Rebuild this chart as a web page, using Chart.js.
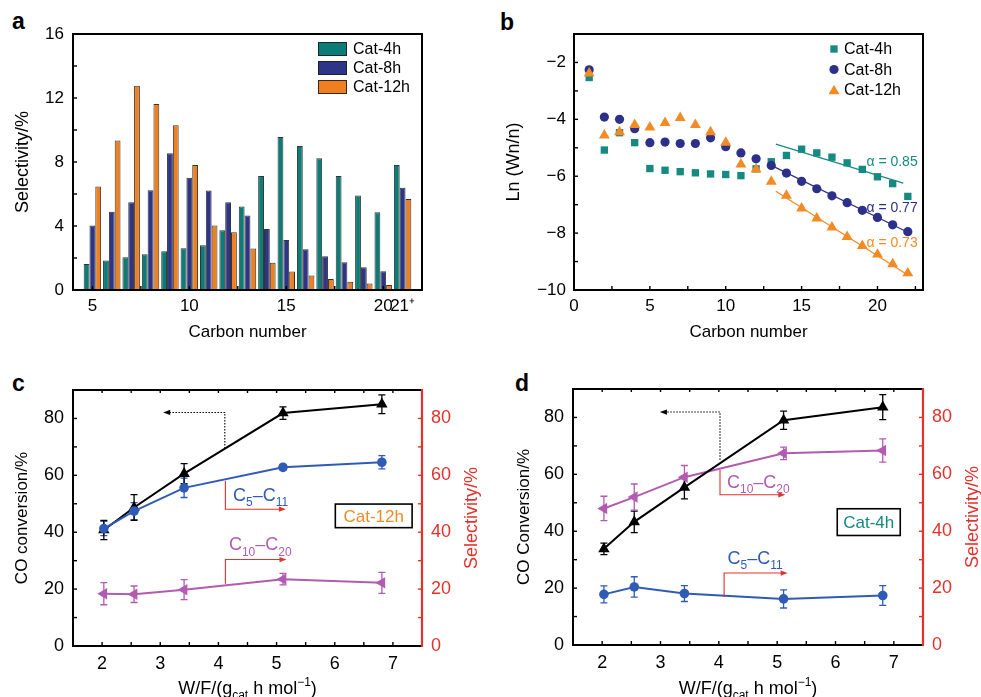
<!DOCTYPE html>
<html><head><meta charset="utf-8">
<script src="https://cdn.jsdelivr.net/npm/chart.js@4.4.1/dist/chart.umd.min.js"></script>
<style>
body{margin:0;background:#fff;width:981px;height:697px;overflow:hidden;position:relative;font-family:"Liberation Sans",Arial,sans-serif}
canvas{position:absolute}
.lab{position:absolute;font-weight:bold;font-size:23px;line-height:1;font-family:"Liberation Sans",Arial,sans-serif;color:#000}
</style></head><body>
<div class="lab" style="left:12px;top:10px">a</div>
<div class="lab" style="left:500px;top:11px">b</div>
<div class="lab" style="left:12px;top:372px">c</div>
<div class="lab" style="left:515px;top:372px">d</div>
<canvas id="ca" width="490" height="350" style="left:0;top:0"></canvas>
<canvas id="cb" width="491" height="350" style="left:490px;top:0"></canvas>
<canvas id="cc" width="490" height="337" style="left:0;top:360px"></canvas>
<canvas id="cd" width="491" height="337" style="left:490px;top:360px"></canvas>
<script>
// ---------------- DATA ----------------
// Panel a: selectivity (%) by carbon number
const carbonA = [5,6,7,8,9,10,11,12,13,14,15,16,17,18,19,20,21];
const aCat4h  = [1.63,1.84,2.05,2.23,2.42,2.61,2.80,3.74,5.22,7.12,9.56,9.00,8.23,7.12,5.91,4.86,7.81];
const aCat8h  = [4.03,4.89,5.49,6.24,8.54,7.01,6.22,5.49,4.66,3.82,3.13,2.55,2.11,1.73,1.42,1.17,6.39];
const aCat12h = [6.47,9.35,12.76,11.63,10.29,7.81,4.03,3.61,2.59,1.71,1.15,0.90,0.69,0.52,0.40,0.31,5.68];
const aXTicks = [5,10,15,20,21];
const aXTickLabels = ['5','10','15','20','21\u207A'];
const aYTicks = [0,4,8,12,16];

// Panel b: ASF plot ln(Wn/n)
const carbonB = [1,2,3,4,5,6,7,8,9,10,11,12,13,14,15,16,17,18,19,20,21,22];
const bCat4h  = [-2.53,-5.08,-4.47,-4.82,-5.73,-5.79,-5.84,-5.88,-5.92,-5.94,-5.98,-5.74,-5.49,-5.27,-5.05,-5.18,-5.33,-5.53,-5.76,-6.02,-6.26,-6.71];
const bCat8h  = [-2.26,-3.92,-4.00,-4.33,-4.82,-4.80,-4.85,-4.85,-4.65,-4.96,-5.18,-5.39,-5.62,-5.89,-6.18,-6.44,-6.69,-6.93,-7.20,-7.45,-7.71,-7.95];
const bCat12h = [-2.38,-4.56,-4.45,-4.19,-4.28,-4.12,-3.95,-4.19,-4.45,-4.82,-5.58,-5.76,-6.19,-6.68,-7.13,-7.48,-7.80,-8.13,-8.45,-8.75,-9.09,-9.41];
const bFit4hX  = [13.3, 21.7], bFit4hY  = [-4.87, -6.24];
const bFit8hX  = [13.0, 22.0], bFit8hY  = [-5.62, -7.97];
const bFit12hX = [13.3, 22.0], bFit12hY = [-6.53, -9.47];
const bAlpha = ['\u03B1 = 0.85', '\u03B1 = 0.77', '\u03B1 = 0.73'];
const bXTicks = [0,5,10,15,20];
const bYTicks = [-10,-8,-6,-4,-2];

// Panels c, d: W/F
const wfX = [2.03, 2.55, 3.41, 5.11, 6.81];
const cConv = [40.8, 48.7, 60.6, 81.9, 85.0], cConvErr = [3.4, 4.5, 3.5, 2.2, 3.3];
const cC5   = [41.3, 47.4, 55.6, 62.8, 64.6], cC5Err   = [2.5, 3.0, 3.4, 1.0, 2.3];
const cC10  = [18.4, 18.2, 19.8, 23.5, 22.2], cC10Err  = [3.9, 2.9, 3.5, 2.0, 3.7];
const dConv = [33.8, 43.3, 55.4, 79.0, 83.6], dConvErr = [2.0, 3.8, 4.0, 3.2, 4.4];
const dC5   = [17.8, 20.4, 18.1, 16.2, 17.4], dC5Err   = [3.0, 3.6, 2.8, 3.2, 3.5];
const dC10  = [48.0, 52.0, 59.0, 67.4, 68.4], dC10Err  = [4.3, 4.6, 4.1, 2.2, 4.1];
const cdXTicks = [2,3,4,5,6,7];
const cdYTicks = [0,20,40,60,80];

// ---------------- STYLE ----------------
const FONT = '"Liberation Sans", Arial, Helvetica, sans-serif';
Chart.defaults.font.family = FONT;
Chart.defaults.color = '#000';
const TEAL = '#0b7d76', NAVY = '#2e3488', ORANGE = '#f0801f';
const TEALB = '#168a80', NAVYB = '#2d3089', ORANGEB = '#f28b25';
const BLUE = '#2f5bb7', MAG = '#b35bb0', RED = '#e3312b';
const BAROUT = 'rgba(30,30,30,0.9)';

const xy = (xs, ys) => xs.map((x, i) => ({x: x, y: ys[i]}));
const range = (a, b, s) => { const r = []; for (let v = a; v <= b + 1e-9; v += s) r.push(+v.toFixed(4)); return r; };
const minusFmt = v => (v < 0 ? '\u2212' : '') + Math.abs(v);

function rich(ctx, x, y, parts, size, color, align) {
  const fonts = parts.map(p => (p[1] ? Math.round(size * 0.68) : size) + 'px ' + FONT);
  let w = 0;
  const ws = parts.map((p, i) => { ctx.font = fonts[i]; const m = ctx.measureText(p[0]).width; w += m; return m; });
  let cx = align === 'center' ? x - w / 2 : align === 'right' ? x - w : x;
  ctx.fillStyle = color; ctx.textBaseline = 'alphabetic'; ctx.textAlign = 'left';
  parts.forEach((p, i) => {
    ctx.font = fonts[i];
    const dy = p[1] === 1 ? size * 0.3 : p[1] === 2 ? -size * 0.42 : 0;
    ctx.fillText(p[0], cx, y + dy); cx += ws[i];
  });
}
function drawMarker(ctx, style, x, y, r, color, rot) {
  ctx.save(); ctx.fillStyle = color; ctx.beginPath();
  if (style === 'circle') ctx.arc(x, y, r, 0, Math.PI * 2);
  else if (style === 'rect') { const s = r * Math.SQRT1_2; ctx.rect(x - s, y - s, 2 * s, 2 * s); }
  else { let a = (rot || 0) * Math.PI / 180;
    for (let k = 0; k < 3; k++) { const px = x + Math.sin(a) * r, py = y - Math.cos(a) * r; k ? ctx.lineTo(px, py) : ctx.moveTo(px, py); a += 2 * Math.PI / 3; }
    ctx.closePath(); }
  ctx.fill(); ctx.restore();
}
function polyArrow(chart, pts, color, dashed) {
  const ctx = chart.ctx, xs = chart.scales.x, ys = chart.scales.y;
  const P = pts.map(p => [xs.getPixelForValue(p[0]), ys.getPixelForValue(p[1])]);
  ctx.save(); ctx.strokeStyle = color; ctx.fillStyle = color; ctx.lineWidth = 1.1;
  if (dashed) ctx.setLineDash([1.5, 1.5]);
  const n = P.length, [ex, ey] = P[n - 1], [px, py] = P[n - 2];
  const ang = Math.atan2(ey - py, ex - px), L = 7, H = 2.6;
  ctx.beginPath(); ctx.moveTo(P[0][0], P[0][1]);
  for (let i = 1; i < n - 1; i++) ctx.lineTo(P[i][0], P[i][1]);
  ctx.lineTo(ex - Math.cos(ang) * L * 0.8, ey - Math.sin(ang) * L * 0.8); ctx.stroke();
  ctx.setLineDash([]);
  ctx.beginPath(); ctx.moveTo(ex, ey);
  ctx.lineTo(ex - Math.cos(ang) * L - Math.sin(ang) * H, ey - Math.sin(ang) * L + Math.cos(ang) * H);
  ctx.lineTo(ex - Math.cos(ang) * L + Math.sin(ang) * H, ey - Math.sin(ang) * L - Math.cos(ang) * H);
  ctx.closePath(); ctx.fill(); ctx.restore();
}
function dataText(chart, x, y, parts, size, color, align) {
  rich(chart.ctx, chart.scales.x.getPixelForValue(x), chart.scales.y.getPixelForValue(y), parts, size, color, align);
}
function dataBox(chart, x0, x1, y0, y1, text, color) {
  const ctx = chart.ctx, xs = chart.scales.x, ys = chart.scales.y;
  const L = xs.getPixelForValue(x0), R = xs.getPixelForValue(x1), T = ys.getPixelForValue(y0), B = ys.getPixelForValue(y1);
  ctx.save(); ctx.fillStyle = '#fff'; ctx.fillRect(L, T, R - L, B - T);
  ctx.strokeStyle = '#000'; ctx.lineWidth = 1.6; ctx.strokeRect(L, T, R - L, B - T);
  ctx.fillStyle = color; ctx.font = '17px ' + FONT; ctx.textAlign = 'center'; ctx.textBaseline = 'middle';
  ctx.fillText(text, (L + R) / 2, (T + B) / 2 + 1); ctx.restore();
}
function rotText(ctx, x, y, text, size, color) {
  ctx.save(); ctx.translate(x, y); ctx.rotate(-Math.PI / 2);
  ctx.font = size + 'px ' + FONT; ctx.fillStyle = color; ctx.textAlign = 'center'; ctx.textBaseline = 'middle';
  ctx.fillText(text, 0, 0); ctx.restore();
}

const extras = {};
const deco = {
  id: 'deco',
  beforeDatasetsDraw(chart) {
    const ctx = chart.ctx;
    chart.data.datasets.forEach((ds, di) => {
      if (!ds.errs) return;
      const meta = chart.getDatasetMeta(di);
      const xs = chart.scales[meta.xAxisID], ys = chart.scales[meta.yAxisID];
      ctx.save(); ctx.strokeStyle = ds.borderColor; ctx.lineWidth = 1.3;
      ds.data.forEach((p, i) => {
        const x = xs.getPixelForValue(p.x), y1 = ys.getPixelForValue(p.y + ds.errs[i]), y2 = ys.getPixelForValue(p.y - ds.errs[i]);
        ctx.beginPath(); ctx.moveTo(x, y1); ctx.lineTo(x, y2);
        ctx.moveTo(x - 3.5, y1); ctx.lineTo(x + 3.5, y1); ctx.moveTo(x - 3.5, y2); ctx.lineTo(x + 3.5, y2); ctx.stroke();
      });
      ctx.restore();
    });
  },
  afterDraw(chart) {
    const ex = extras[chart.canvas.id]; if (!ex) return;
    const ctx = chart.ctx, a = chart.chartArea;
    ctx.save();
    (ex.ticks || []).forEach(t => {
      const s = chart.scales[t.scale];
      ctx.strokeStyle = t.color || '#000'; ctx.lineWidth = 1.4;
      t.values.forEach(v => {
        const p = s.getPixelForValue(v);
        ctx.beginPath();
        if (t.side === 'left') { ctx.moveTo(a.left, p); ctx.lineTo(a.left + t.len, p); }
        else if (t.side === 'right') { ctx.moveTo(a.right, p); ctx.lineTo(a.right - t.len, p); }
        else if (t.side === 'top') { ctx.moveTo(p, a.top); ctx.lineTo(p, a.top + t.len); }
        else { ctx.moveTo(p, a.bottom); ctx.lineTo(p, a.bottom - t.len); }
        ctx.stroke();
      });
    });
    ctx.lineWidth = 2; ctx.strokeStyle = '#000'; ctx.lineCap = 'square';
    ctx.beginPath(); ctx.moveTo(a.right, a.top); ctx.lineTo(a.left, a.top); ctx.lineTo(a.left, a.bottom); ctx.lineTo(a.right, a.bottom);
    if (!ex.redRight) ctx.lineTo(a.right, a.top);
    ctx.stroke();
    if (ex.redRight) { ctx.strokeStyle = RED; ctx.lineWidth = 2.2; ctx.lineCap = 'butt'; ctx.beginPath(); ctx.moveTo(a.right, a.top - 1); ctx.lineTo(a.right, a.bottom + 1); ctx.stroke(); }
    if (ex.draw) ex.draw(chart, ctx, a);
    ctx.restore();
  }
};
Chart.register(deco);

const base = {responsive: false, animation: false, devicePixelRatio: 1,
  plugins: {legend: {display: false}, tooltip: {enabled: false}}};
const fixTicks = arr => s => { s.ticks = arr.map(v => ({value: v})); };
const noGrid = {display: false, drawTicks: false};

// ---------------- PANEL A ----------------
extras.ca = {
  ticks: [
    {scale: 'y', side: 'left', len: 4, values: range(0, 16, 2)},
    {scale: 'x', side: 'bottom', len: 4, values: range(5, 20, 2.5)}
  ],
  draw(chart, ctx) {
    chart.data.datasets.forEach((ds, i) => {
      const y = 49 + i * 19;
      ctx.fillStyle = ds.backgroundColor; ctx.fillRect(318, y - 7, 29, 14);
      ctx.strokeStyle = BAROUT; ctx.lineWidth = 1; ctx.strokeRect(318.5, y - 6.5, 28, 13);
      ctx.fillStyle = '#000'; ctx.font = '16px ' + FONT; ctx.textBaseline = 'middle'; ctx.textAlign = 'left';
      ctx.fillText(ds.label, 353, y + 1);
    });
  }
};
new Chart(document.getElementById('ca'), {
  type: 'bar',
  data: {datasets: [
    {label: 'Cat-4h', data: xy(carbonA, aCat4h), backgroundColor: TEAL, borderColor: BAROUT, borderWidth: 1},
    {label: 'Cat-8h', data: xy(carbonA, aCat8h), backgroundColor: NAVY, borderColor: BAROUT, borderWidth: 1},
    {label: 'Cat-12h', data: xy(carbonA, aCat12h), backgroundColor: ORANGE, borderColor: BAROUT, borderWidth: 1}
  ]},
  options: Object.assign({}, base, {
    layout: {padding: {left: 0, top: 34, right: 68, bottom: 0}},
    datasets: {bar: {categoryPercentage: 0.9, barPercentage: 1.0}},
    scales: {
      x: {type: 'linear', offset: false, min: 4, max: 22, grid: noGrid, border: {display: false},
        afterBuildTicks: fixTicks(aXTicks), afterFit: s => { s.height = 60; },
        ticks: {autoSkip: false, maxRotation: 0, padding: 6, font: {size: 17}, callback: v => aXTickLabels[aXTicks.indexOf(v)]},
        title: {display: true, text: 'Carbon number', font: {size: 17}, padding: {top: 0, bottom: 7}}},
      y: {min: 0, max: 16, grid: noGrid, border: {display: false},
        afterBuildTicks: fixTicks(aYTicks), afterFit: s => { s.width = 73; },
        ticks: {padding: 9, font: {size: 17}},
        title: {display: true, text: 'Selectivity/%', font: {size: 18}, padding: {top: 12, bottom: 0}}}
    }
  })
});

// ---------------- PANEL B ----------------
extras.cb = {
  ticks: [
    {scale: 'y', side: 'left', len: 4, values: range(-10, -2, 1)},
    {scale: 'x', side: 'bottom', len: 4, values: range(0, 22.5, 2.5)}
  ],
  draw(chart, ctx) {
    const rows = [49, 69.5, 90];
    for (let i = 0; i < 3; i++) {
      const ds = chart.data.datasets[i];
      drawMarker(ctx, ds.pointStyle, 344, rows[i] + (ds.pointStyle === 'triangle' ? 1 : 0), ds.pointRadius, ds.backgroundColor);
      ctx.fillStyle = '#000'; ctx.font = '16px ' + FONT; ctx.textAlign = 'left'; ctx.textBaseline = 'middle';
      ctx.fillText(ds.label, 354, rows[i] + 1);
    }
    const ay = [-5.49, -7.12, -8.34], ac = [TEALB, NAVYB, ORANGEB];
    const xs = chart.scales.x, ys = chart.scales.y;
    bAlpha.forEach((t, i) => {
      ctx.font = '14px ' + FONT; ctx.fillStyle = ac[i]; ctx.textAlign = 'right'; ctx.textBaseline = 'middle';
      ctx.fillText(t, xs.getPixelForValue(22.65), ys.getPixelForValue(ay[i]));
    });
  }
};
new Chart(document.getElementById('cb'), {
  type: 'scatter',
  data: {datasets: [
    {label: 'Cat-4h', data: xy(carbonB, bCat4h), pointStyle: 'rect', pointRadius: 5.2, backgroundColor: TEALB, borderColor: TEALB, pointBorderWidth: 0, order: 2},
    {label: 'Cat-8h', data: xy(carbonB, bCat8h), pointStyle: 'circle', pointRadius: 4.6, backgroundColor: NAVYB, borderColor: NAVYB, pointBorderWidth: 0, order: 1},
    {label: 'Cat-12h', data: xy(carbonB, bCat12h), pointStyle: 'triangle', pointRadius: 6.3, backgroundColor: ORANGEB, borderColor: ORANGEB, pointBorderWidth: 0, order: 0},
    {label: 'fit4', data: xy(bFit4hX, bFit4hY), showLine: true, pointRadius: 0, borderColor: TEALB, borderWidth: 1.3, order: 5},
    {label: 'fit8', data: xy(bFit8hX, bFit8hY), showLine: true, pointRadius: 0, borderColor: NAVYB, borderWidth: 1.3, order: 4},
    {label: 'fit12', data: xy(bFit12hX, bFit12hY), showLine: true, pointRadius: 0, borderColor: ORANGEB, borderWidth: 1.3, order: 3}
  ]},
  options: Object.assign({}, base, {
    layout: {padding: {left: 0, top: 34, right: 58, bottom: 0}},
    scales: {
      x: {type: 'linear', min: 0, max: 23, grid: noGrid, border: {display: false},
        afterBuildTicks: fixTicks(bXTicks), afterFit: s => { s.height = 60; },
        ticks: {autoSkip: false, maxRotation: 0, padding: 6, font: {size: 17}},
        title: {display: true, text: 'Carbon number', font: {size: 17}, padding: {top: 0, bottom: 7}}},
      y: {min: -10, max: -1, grid: noGrid, border: {display: false},
        afterBuildTicks: fixTicks(bYTicks), afterFit: s => { s.width = 84; },
        ticks: {padding: 8, font: {size: 17}, callback: minusFmt},
        title: {display: true, text: 'Ln (Wn/n)', font: {size: 18}, padding: {top: 13, bottom: 0}}}
    }
  })
});

// ---------------- PANELS C, D ----------------
function makeCD(id, conv, convErr, c5, c5Err, c10, c10Err, leftTitle, leftPad, axW, rightW, padTop, draw) {
  extras[id] = {
    redRight: true,
    ticks: [
      {scale: 'y', side: 'left', len: 4, values: range(0, 90, 10)},
      {scale: 'y2', side: 'right', len: 4, values: range(0, 90, 10), color: RED},
      {scale: 'x', side: 'bottom', len: 4, values: range(1.5, 7.5, 0.5)},
      {scale: 'x', side: 'top', len: 3, values: range(2, 7, 0.5)}
    ],
    draw: draw
  };
  new Chart(document.getElementById(id), {
    type: 'line',
    data: {datasets: [
      {label: 'C5\u2013C11', data: xy(wfX, c5), errs: c5Err, yAxisID: 'y2', borderColor: BLUE, backgroundColor: BLUE, pointStyle: 'circle', pointRadius: 4.8, pointBorderWidth: 0, borderWidth: 2, tension: 0, order: 0},
      {label: 'CO conversion', data: xy(wfX, conv), errs: convErr, yAxisID: 'y', borderColor: '#000', backgroundColor: '#000', pointStyle: 'triangle', pointRadius: 6.6, pointBorderWidth: 0, borderWidth: 2, tension: 0, order: 1},
      {label: 'C10\u2013C20', data: xy(wfX, c10), errs: c10Err, yAxisID: 'y2', borderColor: MAG, backgroundColor: MAG, pointStyle: 'triangle', pointRotation: -90, pointRadius: 6.6, pointBorderWidth: 0, borderWidth: 2, tension: 0, order: 2}
    ]},
    options: Object.assign({}, base, {
      layout: {padding: {left: 0, top: padTop, right: 0, bottom: 0}},
      scales: {
        x: {type: 'linear', min: 1.5, max: 7.5, grid: noGrid, border: {display: false},
          afterBuildTicks: fixTicks(cdXTicks), afterFit: s => { s.height = 337 - padTop - 256; },
          ticks: {autoSkip: false, maxRotation: 0, padding: 7, font: {size: 18}}},
        y: {position: 'left', min: 0, max: 90, grid: noGrid, border: {display: false},
          afterBuildTicks: fixTicks(cdYTicks), afterFit: s => { s.width = axW; },
          ticks: {padding: 9, font: {size: 18}},
          title: {display: true, text: leftTitle, font: {size: 17}, padding: {top: leftPad, bottom: 0}}},
        y2: {position: 'right', min: 0, max: 90, grid: noGrid, border: {display: false},
          afterBuildTicks: fixTicks(cdYTicks), afterFit: s => { s.width = rightW; },
          ticks: {padding: 9, color: RED, font: {size: 18}}}
      }
    })
  });
}
const wfTitle = [['W/F/(g', 0], ['cat', 1], [' h mol', 0], ['\u22121', 2], [')', 0]];
makeCD('cc', cConv, cConvErr, cC5, cC5Err, cC10, cC10Err, 'CO conversion/%', 12, 73, 68, 30, (chart, ctx, a) => {
  polyArrow(chart, [[4.11, 69.4], [4.11, 82.1], [3.05, 82.1]], '#000', true);
  polyArrow(chart, [[4.12, 58.1], [4.12, 48.1], [5.16, 48.1]], RED, false);
  polyArrow(chart, [[4.12, 21.9], [4.12, 30.4], [5.17, 30.4]], RED, false);
  dataText(chart, 4.25, 51.0, [['C', 0], ['5', 1], ['\u2013C', 0], ['11', 1]], 18, BLUE, 'left');
  dataText(chart, 4.18, 33.7, [['C', 0], ['10', 1], ['\u2013C', 0], ['20', 1]], 18, MAG, 'left');
  dataBox(chart, 6.01, 7.33, 49.9, 41.6, 'Cat-12h', '#f08a24');
  rotText(ctx, 472, (a.top + a.bottom) / 2, 'Selectivity/%', 18, RED);
  rich(ctx, (a.left + a.right) / 2, 334, wfTitle, 18, '#000', 'center');
});
makeCD('cd', dConv, dConvErr, dC5, dC5Err, dC10, dC10Err, 'CO Conversion/%', 24, 83, 58, 29, (chart, ctx, a) => {
  polyArrow(chart, [[4.02, 65.1], [4.02, 81.9], [2.99, 81.9]], '#000', true);
  polyArrow(chart, [[4.02, 61.6], [4.02, 52.8], [5.14, 52.8]], RED, false);
  polyArrow(chart, [[4.09, 16.9], [4.09, 25.3], [5.18, 25.3]], RED, false);
  dataText(chart, 4.14, 55.2, [['C', 0], ['10', 1], ['\u2013C', 0], ['20', 1]], 18, MAG, 'left');
  dataText(chart, 4.15, 28.6, [['C', 0], ['5', 1], ['\u2013C', 0], ['11', 1]], 18, BLUE, 'left');
  dataBox(chart, 6.03, 7.11, 47.9, 38.5, 'Cat-4h', '#15897f');
  rotText(ctx, 483, (a.top + a.bottom) / 2, 'Selectivity/%', 18, RED);
  rich(ctx, (a.left + a.right) / 2, 334, wfTitle, 18, '#000', 'center');
});
</script>
</body></html>
